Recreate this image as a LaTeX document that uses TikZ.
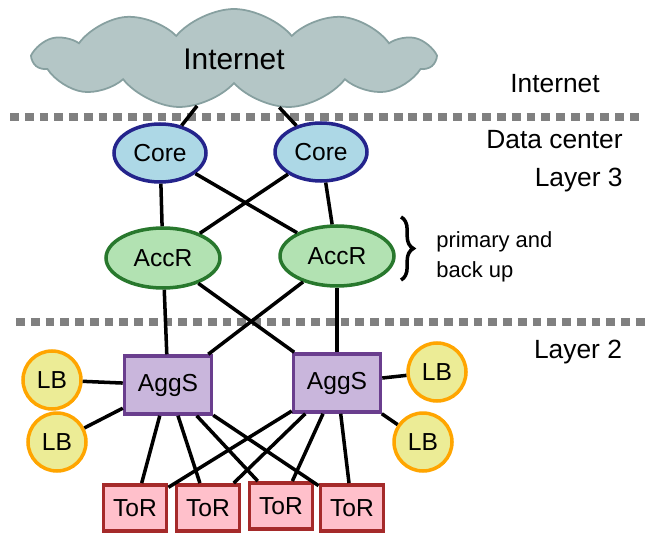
\documentclass[tikz,border=0pt]{standalone}
\usepackage{fontspec}
\setmainfont{Liberation Sans}
\usetikzlibrary{positioning,shapes.geometric,shapes.symbols,decorations.pathreplacing}
\definecolor{CloudFill}{RGB}{180,198,198}
\definecolor{CloudEdge}{RGB}{135,160,160}
\definecolor{CoreFill}{RGB}{173,216,230}
\definecolor{CoreEdge}{RGB}{36,36,140}
\definecolor{AccFill}{RGB}{178,226,178}
\definecolor{AccEdge}{RGB}{40,120,45}
\definecolor{AggFill}{RGB}{201,182,220}
\definecolor{AggEdge}{RGB}{106,62,142}
\definecolor{LBFill}{RGB}{236,236,150}
\definecolor{LBEdge}{RGB}{255,165,0}
\definecolor{ToRFill}{RGB}{255,192,203}
\definecolor{ToREdge}{RGB}{165,42,42}
\definecolor{LayerGray}{RGB}{128,128,128}
\tikzset{
  link/.style={line width=2pt,draw=black},
  layerline/.style={line width=4.2pt,draw=LayerGray,dash pattern=on 5pt off 3.4pt},
  corenode/.style={ellipse,draw=CoreEdge,fill=CoreFill,line width=2pt,
    minimum width=1.84cm,minimum height=1.16cm,inner sep=0pt,font=\fontsize{14}{16}\selectfont},
  accnode/.style={ellipse,draw=AccEdge,fill=AccFill,line width=2pt,
    minimum width=2.28cm,minimum height=1.2cm,inner sep=0pt,font=\fontsize{14}{16}\selectfont},
  aggbox/.style={rectangle,draw=AggEdge,fill=AggFill,line width=2pt,
    minimum width=1.74cm,minimum height=1.16cm,inner sep=0pt,font=\fontsize{14}{16}\selectfont},
  lbnode/.style={circle,draw=LBEdge,fill=LBFill,line width=2pt,
    minimum size=1.16cm,inner sep=0pt,font=\fontsize{14}{16}\selectfont},
  torbox/.style={rectangle,draw=ToREdge,fill=ToRFill,line width=2.2pt,
    minimum width=1.26cm,minimum height=0.92cm,inner sep=0pt,font=\fontsize{14}{16}\selectfont},
  sidelabel/.style={font=\fontsize{15}{21.5}\selectfont,inner sep=0pt},
  smalllabel/.style={font=\fontsize{12.5}{17}\selectfont,inner sep=0pt,align=left,anchor=west}
}

\begin{document}
\begin{tikzpicture}[x=0.02cm,y=-0.02cm]
  \useasboundingbox (0,0) rectangle (651,533);

  % layer separators
  \coordinate (sepA1) at (10,117);
  \coordinate (sepA2) at (642,117);
  \coordinate (sepB1) at (16,322);
  \coordinate (sepB2) at (648,322);
  \draw[layerline] (sepA1) -- (sepA2);
  \draw[layerline] (sepB1) -- (sepB2);

  \node[cloud,cloud puffs=11,cloud puff arc=100,aspect=4,draw=CloudEdge,fill=CloudFill,
    line width=1pt,minimum width=8cm,minimum height=2cm,inner sep=0pt,
    font=\fontsize{17}{20}\selectfont] (inet) at (234,59) {Internet};

  \node[corenode] (core1) at (160,153) {Core};
  \node[corenode] (core2) at (321,152) {Core};
  \node[accnode] (acc1) at (163,258) {AccR};
  \node[accnode] (acc2) at (337,256) {AccR};
  \node[aggbox] (agg1) at (168,385) {AggS};
  \node[aggbox] (agg2) at (337,383) {AggS};
  \node[lbnode] (lb1) at (52,380) {LB};
  \node[lbnode] (lb2) at (57,442) {LB};
  \node[lbnode] (lb3) at (437,372) {LB};
  \node[lbnode] (lb4) at (423,442) {LB};
  \node[torbox] (tor1) at (135,508) {ToR};
  \node[torbox] (tor2) at (208,508) {ToR};
  \node[torbox] (tor3) at (281,506) {ToR};
  \node[torbox] (tor4) at (352,508) {ToR};

  \draw[link] (inet) -- (core1);
  \draw[link] (inet) -- (core2);
  \draw[link] (core1) -- (acc1);
  \draw[link] (core1) -- (acc2);
  \draw[link] (core2) -- (acc1);
  \draw[link] (core2) -- (acc2);
  \draw[link] (acc1) -- (agg1);
  \draw[link] (acc1) -- (agg2);
  \draw[link] (acc2) -- (agg1);
  \draw[link] (acc2) -- (agg2);
  \draw[link] (lb1) -- (agg1);
  \draw[link] (lb2) -- (agg1);
  \draw[link] (lb3) -- (agg2);
  \draw[link] (lb4) -- (agg2);
  \draw[link] (agg1) -- (tor1);
  \draw[link] (agg1) -- (tor2);
  \draw[link] (agg1) -- (tor3);
  \draw[link] (agg1) -- (tor4);
  \draw[link] (agg2) -- (tor1);
  \draw[link] (agg2) -- (tor2);
  \draw[link] (agg2) -- (tor3);
  \draw[link] (agg2) -- (tor4);

  % labels on the right
  \node[sidelabel] (inetlabel) at (555,84) {Internet};
  \node[sidelabel,align=right,anchor=east] (dclabel) at (623,161) {Data center\\Layer 3};
  \node[sidelabel] (l2label) at (578,352) {Layer 2};
  \coordinate (bracetop) at (401,217);
  \coordinate (bracebot) at (401,280);
  \draw[decorate,decoration={brace,amplitude=7pt},line width=2pt] (bracetop) -- (bracebot);
  \node[smalllabel] (backuplabel) at (436,257) {primary and\\back up};
\end{tikzpicture}
\end{document}
